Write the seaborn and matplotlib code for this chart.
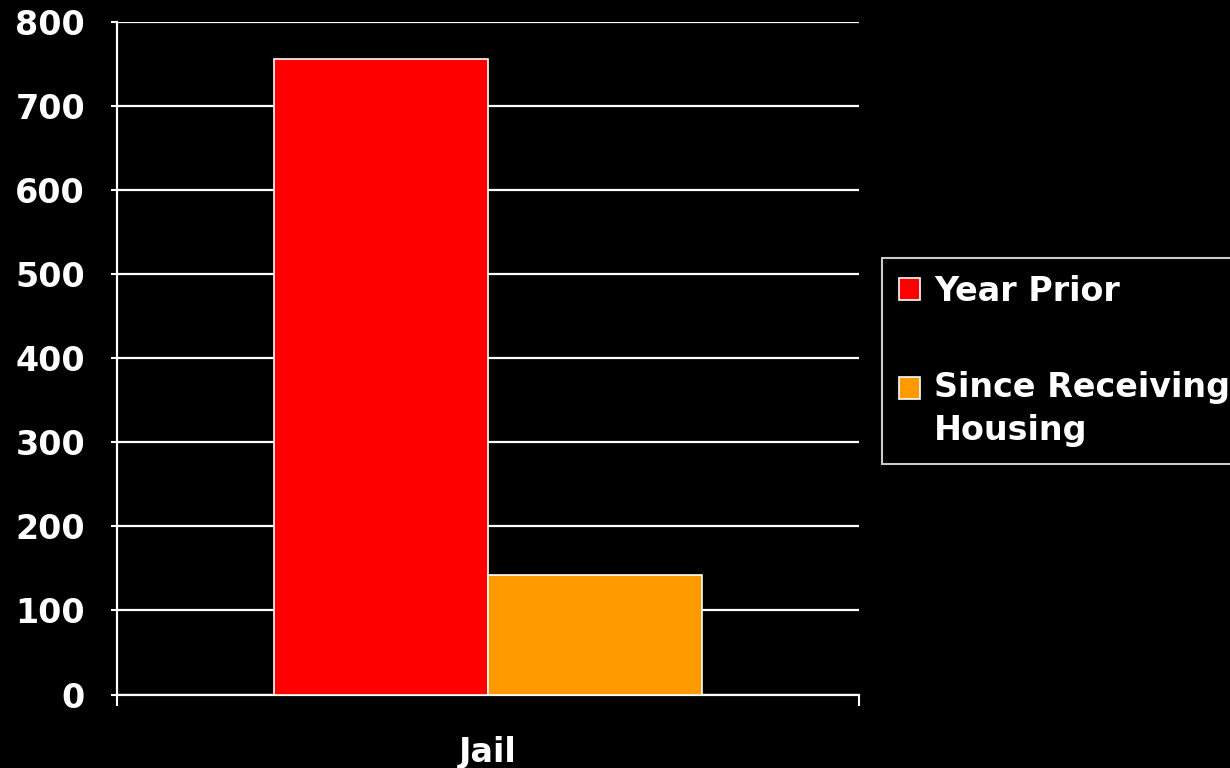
import pandas as pd
import numpy as np
import matplotlib.pyplot as plt
import seaborn as sns
from matplotlib.patches import Rectangle
from matplotlib.legend_handler import HandlerPatch

# Data
categories = ["Jail"]
periods = ["Year Prior", "Since Receiving\nHousing"]
values_year_prior = [756]
values_since_housing = [142]
colors = ["#FF0000", "#FF9900"]

df = pd.DataFrame({
    "category": categories * 2,
    "period": [periods[0]] * len(categories) + [periods[1]] * len(categories),
    "count": values_year_prior + values_since_housing,
})

sns.set_style("dark")
plt.rcParams["font.family"] = ["DejaVu Sans"]
plt.rcParams["font.weight"] = "bold"

FS = 24

fig = plt.figure(figsize=(12.3, 7.68), dpi=100, facecolor="black")
ax = fig.add_axes([0.0951, 0.0957, 0.6033, 0.8763])
ax.set_facecolor("black")

sns.barplot(
    data=df, x="category", y="count", hue="period",
    palette=colors, saturation=1, width=0.577,
    edgecolor="white", linewidth=1.2, ax=ax, zorder=3,
)

# -----------------------------------
# Axes styling
# -----------------------------------
ax.set_ylim(0, 800)
ax.set_xlim(-0.5, 0.5)
ax.set_yticks(np.arange(0, 801, 100))
ax.yaxis.grid(True, color="white", linewidth=1.6, zorder=0)
ax.xaxis.grid(False)

for side in ["top", "right"]:
    ax.spines[side].set_visible(False)
for side in ["left", "bottom"]:
    ax.spines[side].set_color("white")
    ax.spines[side].set_linewidth(1.6)

ax.tick_params(axis="y", left=True, colors="white", labelsize=FS,
               length=4, width=1.5, pad=19)
ax.tick_params(axis="x", which="major", bottom=True, colors="white",
               labelsize=FS, length=0, pad=30)
ax.set_xticks([-0.5, 0.5], minor=True)
ax.tick_params(axis="x", which="minor", bottom=True, color="white",
               length=8, width=1.5)
for lbl in ax.get_xticklabels() + ax.get_yticklabels():
    lbl.set_fontweight("bold")

ax.set_xlabel("")
ax.set_ylabel("")

LINESPACING = 1.4


# -----------------------------------
# Legend (swatch aligned to first text line)
# -----------------------------------
def top_aligned_patch(legend, orig_handle, xdescent, ydescent, width, height, fontsize):
    lines = orig_handle.get_label().count("\n")
    shift = lines * 0.68 * fontsize
    return Rectangle((-xdescent, -ydescent + shift), width, height)


handles, labels = ax.get_legend_handles_labels()
ax.legend_.remove()
for h, lab in zip(handles, labels):
    h.set_label(lab)
leg = fig.legend(
    handles, labels, loc="upper left", bbox_to_anchor=(0.717, 0.664),
    borderaxespad=0, frameon=True, fancybox=False, facecolor="black",
    edgecolor="white", labelcolor="white", handlelength=0.65,
    handleheight=0.65, handletextpad=0.42, labelspacing=1.9,
    borderpad=0.5, prop={"weight": "bold", "size": FS},
    handler_map={Rectangle: HandlerPatch(patch_func=top_aligned_patch)},
)
for t in leg.get_texts():
    t.set_linespacing(LINESPACING)
leg.get_frame().set_linewidth(1.5)

fig.savefig("out.png", dpi=100, facecolor="black")
plt.close()
